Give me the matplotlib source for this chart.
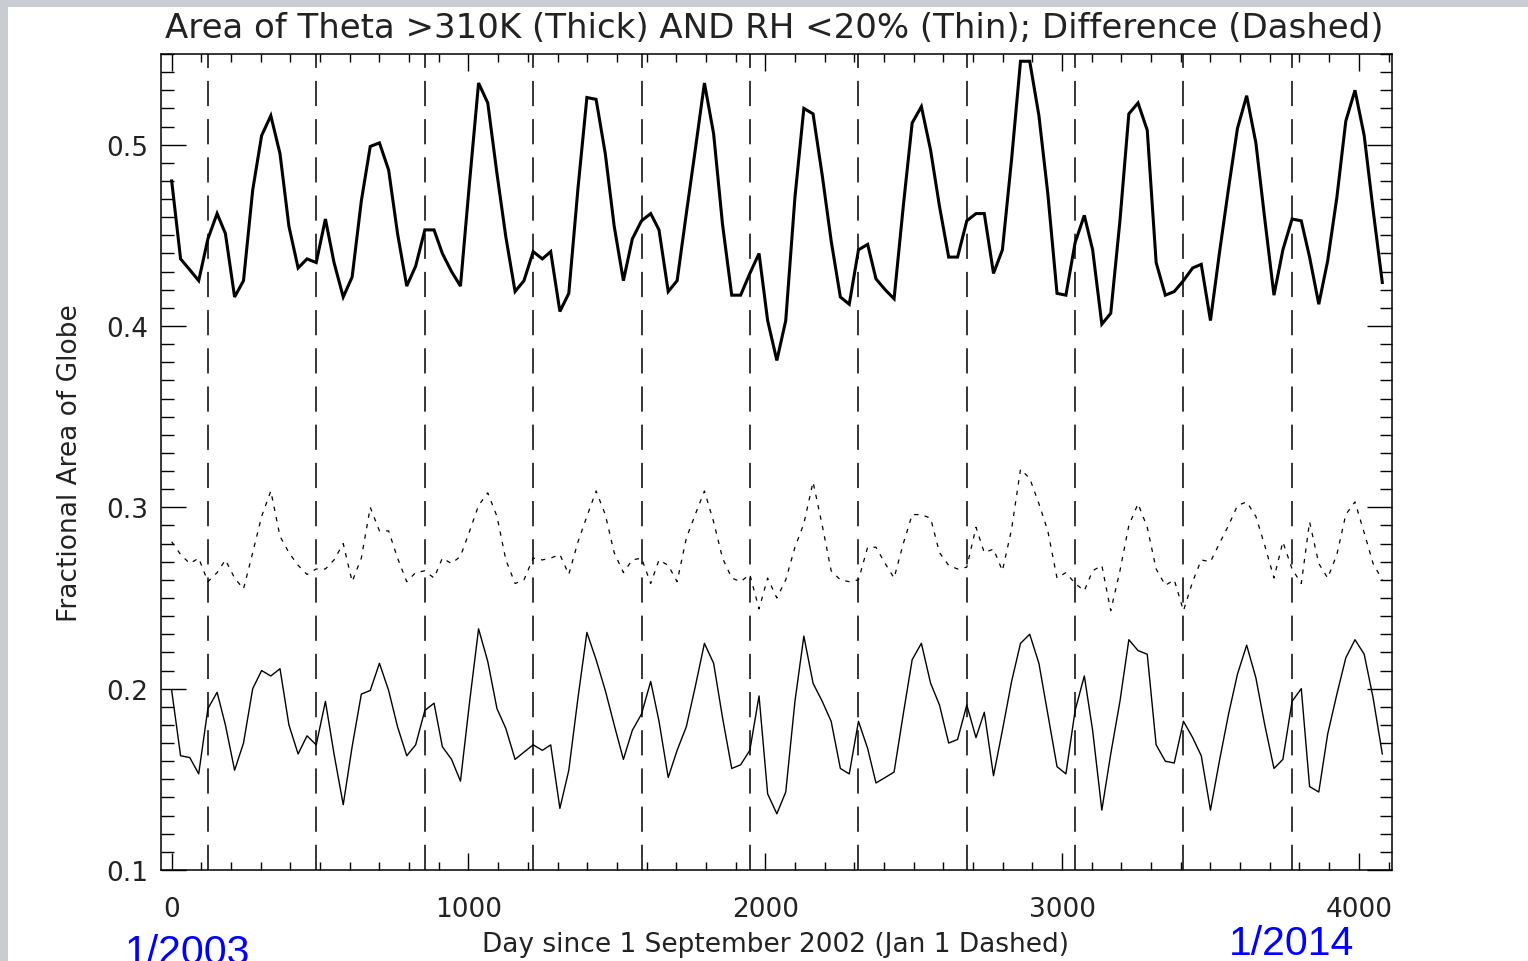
import numpy as np
import pandas as pd
import matplotlib
matplotlib.use("Agg")
import matplotlib.pyplot as plt
from matplotlib.ticker import MultipleLocator, FuncFormatter
from matplotlib.patches import Rectangle

# ---------------- data ----------------
# monthly values starting September 2002
theta_area = [
    0.480, 0.437, 0.431, 0.425, 0.448, 0.462, 0.451, 0.416, 0.425, 0.475,
    0.505, 0.516, 0.495, 0.455, 0.432, 0.437, 0.435, 0.459, 0.435, 0.416,
    0.427, 0.469, 0.499, 0.501, 0.486, 0.451, 0.422, 0.433, 0.453, 0.453,
    0.440, 0.430, 0.422, 0.480, 0.534, 0.523, 0.484, 0.449, 0.419, 0.425,
    0.441, 0.437, 0.441, 0.408, 0.418, 0.476, 0.526, 0.525, 0.495, 0.455,
    0.425, 0.448, 0.458, 0.462, 0.453, 0.419, 0.425, 0.462, 0.497, 0.534,
    0.506, 0.456, 0.417, 0.417, 0.429, 0.440, 0.403, 0.381, 0.403, 0.471,
    0.520, 0.517, 0.483, 0.447, 0.416, 0.412, 0.442, 0.445, 0.426, 0.420,
    0.415, 0.466, 0.512, 0.521, 0.497, 0.466, 0.438, 0.438, 0.458, 0.462,
    0.462, 0.429, 0.442, 0.492, 0.546, 0.546, 0.516, 0.473, 0.418, 0.417,
    0.446, 0.461, 0.442, 0.401, 0.407, 0.458, 0.517, 0.523, 0.508, 0.435,
    0.417, 0.419, 0.425, 0.432, 0.434, 0.403, 0.440, 0.476, 0.509, 0.527,
    0.501, 0.459, 0.417, 0.442, 0.459, 0.458, 0.438, 0.412, 0.436, 0.471,
    0.513, 0.530, 0.505, 0.464, 0.424,
]
rh_area = [
    0.199, 0.163, 0.162, 0.153, 0.189, 0.198, 0.180, 0.155, 0.170, 0.200,
    0.210, 0.207, 0.211, 0.180, 0.164, 0.174, 0.169, 0.193, 0.164, 0.136,
    0.168, 0.197, 0.199, 0.214, 0.199, 0.179, 0.163, 0.169, 0.188, 0.192,
    0.168, 0.161, 0.149, 0.193, 0.233, 0.215, 0.189, 0.178, 0.161, 0.165,
    0.169, 0.166, 0.169, 0.134, 0.155, 0.195, 0.231, 0.216, 0.199, 0.180,
    0.161, 0.177, 0.186, 0.204, 0.182, 0.151, 0.166, 0.179, 0.201, 0.225,
    0.214, 0.184, 0.156, 0.158, 0.166, 0.196, 0.142, 0.131, 0.143, 0.193,
    0.229, 0.203, 0.193, 0.182, 0.156, 0.153, 0.182, 0.167, 0.148, 0.151,
    0.154, 0.186, 0.216, 0.225, 0.203, 0.191, 0.170, 0.172, 0.191, 0.173,
    0.187, 0.152, 0.177, 0.204, 0.225, 0.230, 0.214, 0.186, 0.157, 0.153,
    0.188, 0.207, 0.177, 0.133, 0.164, 0.193, 0.227, 0.221, 0.219, 0.169,
    0.160, 0.159, 0.182, 0.173, 0.163, 0.133, 0.160, 0.186, 0.208, 0.224,
    0.206, 0.180, 0.156, 0.161, 0.193, 0.200, 0.146, 0.143, 0.175, 0.197,
    0.217, 0.227, 0.219, 0.195, 0.164,
]
start_date = "2002-09-01"
jan_years = list(range(2003, 2014))

# derived
t0 = pd.Timestamp(start_date)
days = np.array([(d - t0).days for d in pd.date_range(start_date, periods=len(theta_area), freq="MS")])
thick = np.array(theta_area)
thin = np.array(rh_area)
diff = thick - thin
jan_days = [(pd.Timestamp(f"{y}-01-01") - t0).days for y in jan_years]

# ---------------- figure ----------------
W, H = 1528, 962
fig = plt.figure(figsize=(W / 100, H / 100), dpi=100)
fig.patch.set_facecolor("#c9cdd2")
fig.add_artist(Rectangle((8 / W, 0), 1 - 8 / W, 1 - 8 / H, transform=fig.transFigure,
                         facecolor="white", edgecolor="none", zorder=-10))

left, right, top, bottom = 161, 1391.5, 55, 871
ax = fig.add_axes([left / W, 1 - bottom / H, (right - left) / W, (bottom - top) / H])
ax.set_facecolor("white")

ax.plot(days, thick, color="black", lw=2.2, solid_joinstyle="miter")
ax.plot(days, thin, color="black", lw=1.0)
ax.plot(days, diff, color="black", lw=0.9, dashes=(3.5, 5.0))
for jd in jan_days:
    ax.axvline(jd, color="black", lw=1.1, dashes=(16.5, 8.5))

ax.set_xlim(-36, 4110)
ax.set_ylim(0.1, 0.55)
ax.xaxis.set_major_locator(MultipleLocator(1000))
ax.xaxis.set_minor_locator(MultipleLocator(100))
ax.yaxis.set_major_locator(MultipleLocator(0.1))
ax.yaxis.set_minor_locator(MultipleLocator(0.01))
ax.xaxis.set_major_formatter(FuncFormatter(lambda v, p: f"{int(round(v))}"))
ax.yaxis.set_major_formatter(FuncFormatter(lambda v, p: f"{v:.1f}"))

for s in ax.spines.values():
    s.set_linewidth(1.1)
ax.tick_params(axis="both", which="both", direction="in", top=True, right=True,
               color="black", width=1.0, labelcolor="#222222")
ax.tick_params(axis="x", which="major", length=12, pad=19, labelsize=19)
ax.tick_params(axis="x", which="minor", length=6)
ax.tick_params(axis="y", which="major", length=18, pad=9, labelsize=19)
ax.tick_params(axis="y", which="minor", length=9)

ax.set_xlabel("Day since 1 September 2002 (Jan 1 Dashed)", fontsize=19, color="#222222")
ax.xaxis.set_label_coords(0.4995, -0.0745)
ax.set_ylabel("Fractional Area of Globe", fontsize=19, color="#222222")
ax.yaxis.set_label_coords(-0.0635, 0.5)

fig.text(774 / W, 1 - 38 / H, "Area of Theta >310K (Thick) AND RH <20% (Thin); Difference (Dashed)",
         ha="center", va="baseline", fontsize=24.5, color="#222222")

fig.text(188 / W, 1 - 964 / H, "1/2003", ha="center", va="baseline", color="#0000ff",
         fontsize=29.5, family="Liberation Sans")
fig.text(1292 / W, 1 - 955 / H, "1/2014", ha="center", va="baseline", color="#0000ff",
         fontsize=29.5, family="Liberation Sans")

fig.savefig("out.png", dpi=100, facecolor=fig.get_facecolor())
